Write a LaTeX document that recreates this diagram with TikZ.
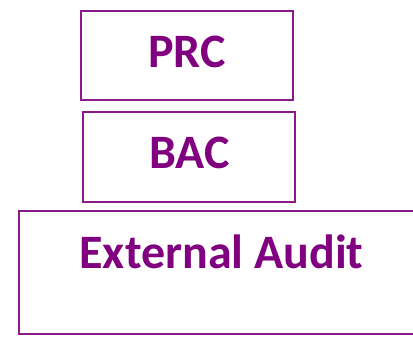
\documentclass[tikz,border=0pt]{standalone}
\usepackage{fontspec}
\setmainfont{Carlito}
\definecolor{bordpurple}{HTML}{8A1A8A}
\definecolor{txtpurple}{HTML}{800080}
\tikzset{
  boxstyle/.style={draw=bordpurple, line width=1.6pt, fill=none},
  lbl/.style={text=txtpurple, font=\fontsize{48}{52}\selectfont\bfseries, anchor=base, inner sep=0pt}
}
\begin{document}
\begin{tikzpicture}[x=1pt,y=1pt]
\useasboundingbox (0,0) rectangle (413,338);
\clip (0,0) rectangle (413,338);
\draw[boxstyle] (81,238) rectangle (293,327) coordinate (prcbox);
\draw[boxstyle] (83,136) rectangle (295,226) coordinate (bacbox);
\draw[boxstyle] (19,4) rectangle (430,127) coordinate (extbox);
\node[lbl] (prc) at (187,270) {PRC};
\node[lbl] (bac) at (189.5,169) {BAC};
\node[lbl] (ext) at (221.5,70) {External Audit};
\end{tikzpicture}
\end{document}
